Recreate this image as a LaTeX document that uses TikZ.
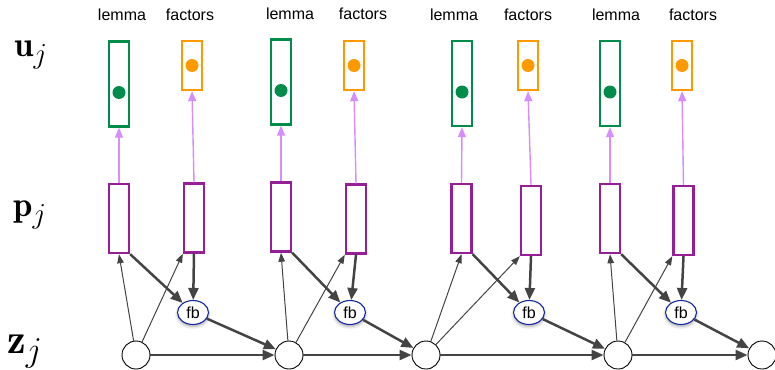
\documentclass[tikz,border=0pt]{standalone}
\usepackage{fontspec}
\newfontfamily\labelfont{Liberation Sans}
\usetikzlibrary{arrows.meta,shapes.geometric,shadows.blur}

\definecolor{lemmagreen}{RGB}{0,140,75}
\definecolor{factorange}{RGB}{255,153,0}
\definecolor{projpurple}{RGB}{150,30,150}
\definecolor{linkviolet}{RGB}{215,140,255}
\definecolor{edgegray}{RGB}{68,68,68}
\definecolor{fbblue}{RGB}{20,40,160}

\tikzset{
  ubox/.style={draw, line width=2.4pt, fill=white, minimum width=20pt, inner sep=0pt},
  lemmabox/.style={ubox, draw=lemmagreen, minimum height=85pt},
  factbox/.style={ubox, draw=factorange, minimum height=49pt},
  pbox/.style={ubox, draw=projpurple, minimum height=69pt},
  dotmark/.style={circle, inner sep=0pt, minimum size=13pt},
  fbnode/.style={ellipse, draw=fbblue, line width=1.1pt, fill=white,
    minimum width=31pt, minimum height=24pt, inner sep=0pt,
    font=\labelfont\fontsize{16}{16}\selectfont,
    blur shadow={shadow xshift=0pt, shadow yshift=-2pt, shadow blur radius=3pt, shadow opacity=35}},
  znode/.style={circle, draw=black, line width=0.9pt, fill=white, minimum size=28pt, inner sep=0pt},
  heavy/.style={draw=edgegray, line width=2.5pt, -{Triangle[length=12pt,width=10pt]}},
  light/.style={draw=edgegray, line width=1pt, -{Triangle[length=9pt,width=6.5pt]}},
  lift/.style={draw=linkviolet, line width=1.4pt, -{Triangle[length=10pt,width=8pt]}},
  head/.style={font=\labelfont\fontsize{16}{16}\selectfont, anchor=base, inner sep=0pt},
  rowlabel/.style={font=\Huge, anchor=base west, inner sep=0pt, scale=1.4}
}

\begin{document}
\begin{tikzpicture}[x=1pt,y=-1pt]
\useasboundingbox (0,0) rectangle (775,369);

% row labels
\node[rowlabel] (ulab) at (14,56)  {$\mathbf{u}_j$};
\node[rowlabel] (plab) at (13,216) {$\mathbf{p}_j$};
\node[rowlabel, scale=1.2] (zlab) at (7,353)  {$\mathbf{z}_j$};

% state chain
\foreach \k/\zx in {1/136,2/289,3/426,4/618,5/762}
  \node[znode] (z\k) at (\zx,355) {};

% one block per position: output boxes, projections, feedback
\foreach \g/\ulx/\uly/\ufx/\plx/\ply/\pfx/\pfy/\fbx/\lx/\fx/\ty in {
  1/119/84/192/119/218.5/194/218/193/122/190/21,
  2/281/82/354/281/217/356/219/350/290/363/20,
  3/462/83.5/528/461.5/218.5/531/220.5/529/454/528/21,
  4/610/83.5/682/610/218.5/683.5/220.5/681/616/693/21}{
  \pgfmathtruncatemacro{\nx}{\g+1}
  \node[head] (hl\g) at (\lx,\ty) {lemma};
  \node[head] (hf\g) at (\fx,\ty) {factors};
  \node[lemmabox] (uL\g) at (\ulx,\uly) {};
  \node[factbox]  (uF\g) at (\ufx,65.5) {};
  \node[dotmark, fill=lemmagreen] (dL\g) at ([yshift=-8.5pt]uL\g.center) {};
  \node[dotmark, fill=factorange] (dF\g) at (uF\g.center) {};
  \node[pbox] (pL\g) at (\plx,\ply) {};
  \node[pbox] (pF\g) at (\pfx,\pfy) {};
  \node[fbnode] (fb\g) at (\fbx,312.5) {fb};
  \draw[lift] (pL\g.north) -- (uL\g.south);
  \draw[lift] (pF\g.north) -- (uF\g.south);
  \draw[light] (z\g) -- (pL\g.south);
  \draw[light] (z\g) -- (pF\g.south west);
  \draw[heavy] (pL\g.south east) -- (fb\g);
  \draw[heavy] (pF\g.south) -- (fb\g);
  \draw[heavy] (fb\g) -- (z\nx);
  \draw[heavy] (z\g) -- (z\nx);
}
\end{tikzpicture}
\end{document}
